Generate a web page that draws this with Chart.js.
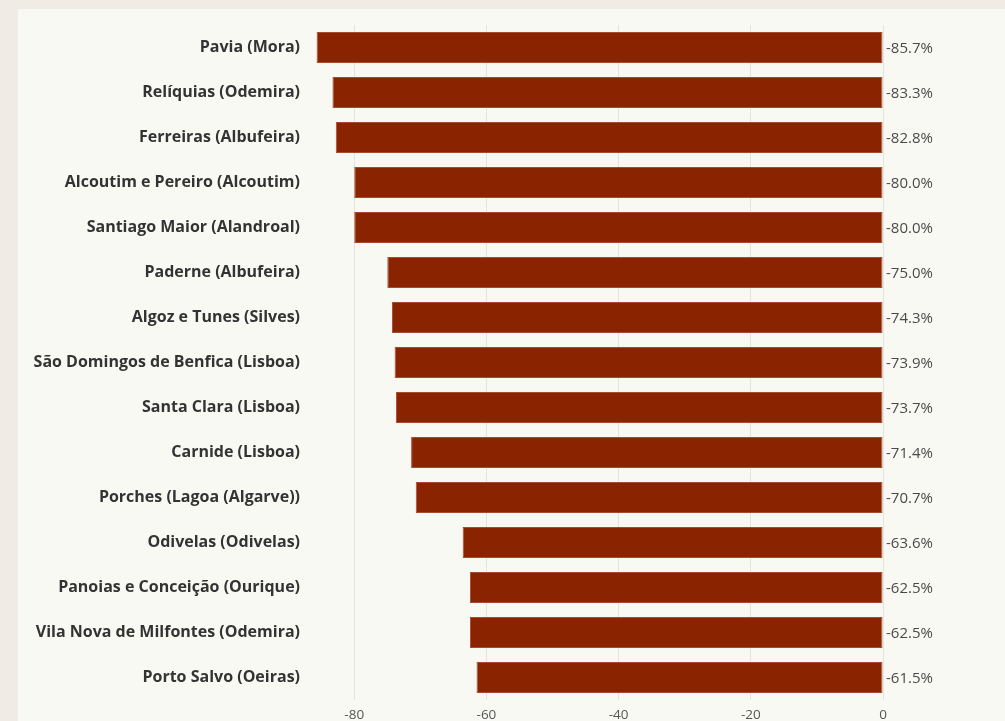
<!DOCTYPE html>
<html>
<head>
<meta charset="utf-8">
<script src="https://cdn.jsdelivr.net/npm/chart.js@4"></script>
<style>
  html, body { margin: 0; padding: 0; background: #f0ebe5; overflow: hidden; }
  #panel { position: absolute; left: 18px; top: 9px; width: 987px; height: 712px; background: #f9f9f4; }
  #chart { display: block; }
</style>
</head>
<body>
<div id="panel"><canvas id="chart" width="987" height="712"></canvas></div>
<script>
const parishes = [
  "Pavia (Mora)",
  "Relíquias (Odemira)",
  "Ferreiras (Albufeira)",
  "Alcoutim e Pereiro (Alcoutim)",
  "Santiago Maior (Alandroal)",
  "Paderne (Albufeira)",
  "Algoz e Tunes (Silves)",
  "São Domingos de Benfica (Lisboa)",
  "Santa Clara (Lisboa)",
  "Carnide (Lisboa)",
  "Porches (Lagoa (Algarve))",
  "Odivelas (Odivelas)",
  "Panoias e Conceição (Ourique)",
  "Vila Nova de Milfontes (Odemira)",
  "Porto Salvo (Oeiras)",
];
const change = [-85.7, -83.3, -82.8, -80.0, -80.0, -75.0, -74.3, -73.9, -73.7, -71.4, -70.7, -63.6, -62.5, -62.5, -61.5];
const xTicks = [-80, -60, -40, -20, 0];

const FONT = "'Open Sans', sans-serif";

const valueLabels = {
  id: "valueLabels",
  afterDatasetsDraw(chart) {
    const ctx = chart.ctx;
    const meta = chart.getDatasetMeta(0);
    ctx.save();
    ctx.font = "15px " + FONT;
    ctx.fillStyle = "#4a4a4a";
    ctx.textAlign = "left";
    ctx.textBaseline = "middle";
    meta.data.forEach((bar, i) => {
      ctx.fillText(change[i].toFixed(1) + "%", chart.chartArea.right + 3, bar.y + 1);
    });
    ctx.restore();
  },
};

new Chart(document.getElementById("chart"), {
  type: "bar",
  data: {
    labels: parishes,
    datasets: [
      {
        data: change,
        backgroundColor: "#8a2400",
        borderColor: "#a64a30",
        borderWidth: 1,
        borderSkipped: false,
        categoryPercentage: 1,
        barPercentage: 0.69,
      },
    ],
  },
  options: {
    indexAxis: "y",
    responsive: false,
    animation: false,
    layout: { padding: { top: 16, right: 122, left: 0, bottom: 0 } },
    plugins: { legend: { display: false }, tooltip: { enabled: false } },
    scales: {
      x: {
        min: -87,
        max: 0,
        afterBuildTicks(scale) {
          scale.ticks = xTicks.map((v) => ({ value: v }));
        },
        afterFit(scale) {
          scale.height = 21;
        },
        grid: { color: "#e4e4df", drawTicks: false },
        border: { display: false },
        ticks: {
          padding: 7,
          color: "#555",
          font: { family: FONT, size: 13.5 },
        },
      },
      y: {
        afterFit(scale) {
          scale.width = 290;
        },
        grid: { display: false },
        border: { display: false },
        ticks: {
          padding: 0,
          color: "#333",
          font: { family: FONT, size: 16, weight: "bold" },
        },
      },
    },
  },
  plugins: [valueLabels],
});
</script>
</body>
</html>
